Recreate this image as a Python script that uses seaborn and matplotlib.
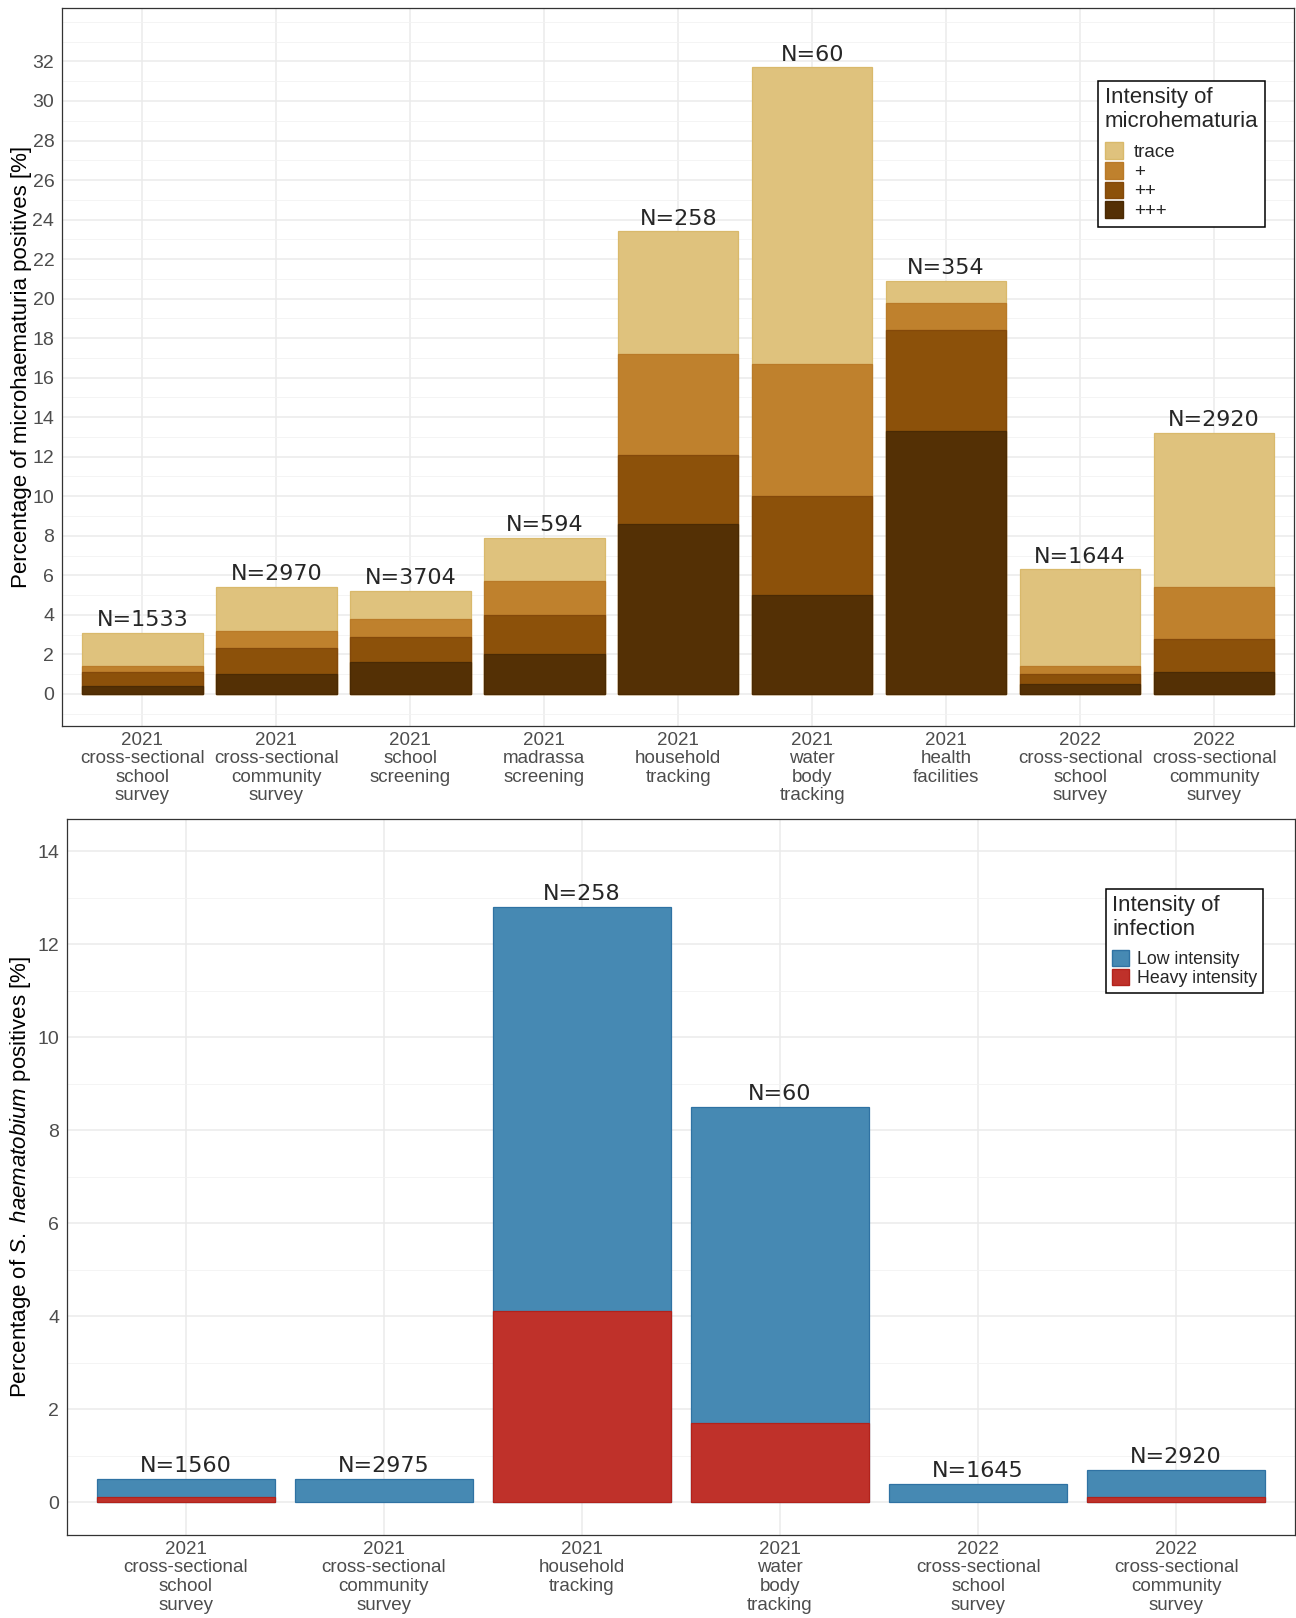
import numpy as np
import pandas as pd
import matplotlib
matplotlib.use("Agg")
import matplotlib.pyplot as plt
from matplotlib.patches import Patch
import seaborn as sns

# ---- data: microhaematuria (%) by intensity ----
mh_labels = ["2021\ncross-sectional\nschool\nsurvey", "2021\ncross-sectional\ncommunity\nsurvey",
             "2021\nschool\nscreening", "2021\nmadrassa\nscreening", "2021\nhousehold\ntracking",
             "2021\nwater\nbody\ntracking", "2021\nhealth\nfacilities",
             "2022\ncross-sectional\nschool\nsurvey", "2022\ncross-sectional\ncommunity\nsurvey"]
mh_n = [1533, 2970, 3704, 594, 258, 60, 354, 1644, 2920]
mh_plus3 = [0.4, 1.0, 1.6, 2.0, 8.6, 5.0, 13.3, 0.5, 1.1]
mh_plus2 = [0.7, 1.3, 1.3, 2.0, 3.5, 5.0, 5.1, 0.5, 1.7]
mh_plus1 = [0.3, 0.9, 0.9, 1.7, 5.1, 6.7, 1.4, 0.4, 2.6]
mh_trace = [1.7, 2.2, 1.4, 2.2, 6.2, 15.0, 1.1, 4.9, 7.8]
mh_yticks = list(range(0, 33, 2))

# ---- data: S. haematobium (%) by intensity ----
sh_labels = ["2021\ncross-sectional\nschool\nsurvey", "2021\ncross-sectional\ncommunity\nsurvey",
             "2021\nhousehold\ntracking", "2021\nwater\nbody\ntracking",
             "2022\ncross-sectional\nschool\nsurvey", "2022\ncross-sectional\ncommunity\nsurvey"]
sh_n = [1560, 2975, 258, 60, 1645, 2920]
sh_heavy = [0.1, 0.0, 4.1, 1.7, 0.0, 0.1]
sh_low = [0.4, 0.5, 8.7, 6.8, 0.4, 0.6]
sh_yticks = list(range(0, 15, 2))

sns.set_style("whitegrid")
plt.rcParams["font.family"] = ["Liberation Sans", "DejaVu Sans"]
plt.rcParams["mathtext.fontset"] = "custom"
plt.rcParams["mathtext.rm"] = "Liberation Sans"
plt.rcParams["mathtext.it"] = "Liberation Sans:italic"

fig = plt.figure(figsize=(12.96, 16.18), dpi=100)
ax1 = fig.add_axes([0.0478, 0.5516, 0.9510, 0.4434])
ax2 = fig.add_axes([0.0517, 0.0515, 0.9475, 0.4426])

tick_col = "#4D4D4D"


def style_axes(ax, ymin, ymax, ncat, yticks):
    ax.set_xlim(-0.6, ncat - 0.4)
    ax.set_ylim(ymin, ymax)
    ax.set_yticks(yticks)
    minor = [v for v in range(int(np.ceil(ymin)), int(ymax) + 1) if v not in yticks]
    ax.set_yticks(minor, minor=True)
    ax.set_axisbelow(True)
    ax.grid(which="major", color="#EBEBEB", linewidth=1.1)
    ax.grid(which="minor", axis="y", color="#F2F2F2", linewidth=0.6)
    ax.grid(which="minor", axis="x", visible=False)
    for s in ax.spines.values():
        s.set_color("#333333")
        s.set_linewidth(0.9)
    ax.tick_params(axis="both", which="major", length=4, width=0.8, color="#333333",
                   labelcolor=tick_col, pad=1.5)
    ax.tick_params(axis="x", which="major", pad=0.5)
    ax.tick_params(axis="y", which="major", labelsize=14)
    ax.tick_params(axis="x", which="major", labelsize=13.5)
    ax.tick_params(axis="both", which="minor", length=0)
    ax.set_xlabel("")
    for lab in ax.get_xticklabels():
        lab.set_linespacing(1.12)
        lab.set_color(tick_col)


def stacked_layers(ax, labels, layers, colors, edges):
    cum = np.zeros(len(labels))
    tops = []
    for vals in layers:
        cum = cum + np.array(vals)
        tops.append(cum.copy())
    # draw tallest (cumulative) first so lower layers sit on top
    for top, col, ec in reversed(list(zip(tops, colors, edges))):
        df = pd.DataFrame({"cat": labels, "val": top})
        sns.barplot(data=df, x="cat", y="val", color=col, width=0.9, saturation=1,
                    edgecolor=ec, linewidth=0.9, ax=ax)
    return tops


def make_legend(ax, handles, labels, title, anchor, fs, tpad):
    leg = ax.legend(handles, labels, title=title, bbox_to_anchor=anchor, loc="upper left",
                    fontsize=fs, title_fontsize=16, frameon=True, fancybox=False,
                    edgecolor="black", framealpha=1, handlelength=0.95, handleheight=1.0,
                    labelspacing=0.05, handletextpad=tpad, borderpad=0.35,
                    borderaxespad=0, alignment="left")
    leg.get_frame().set_linewidth(1.1)
    leg._legend_box.sep = 7
    return leg


# ---- top panel ----
mh_colors = ["#543005", "#8C510A", "#BF812D", "#DFC27D"]
mh_edges = ["#4A2A04", "#84490A", "#B97A28", "#D9B96B"]
tops = stacked_layers(ax1, mh_labels, [mh_plus3, mh_plus2, mh_plus1, mh_trace], mh_colors, mh_edges)
style_axes(ax1, -1.6, 34.7, len(mh_labels), mh_yticks)
ax1.set_ylabel("Percentage of microhaematuria positives [%]", fontsize=16, color="black", labelpad=0.5)
for i, (t, n) in enumerate(zip(tops[-1], mh_n)):
    ax1.annotate(f"N={n}", (i, t), xytext=(0, 2), textcoords="offset points",
                 ha="center", va="bottom", fontsize=16, family="DejaVu Sans")
h1 = [Patch(facecolor=c, edgecolor=e) for c, e in zip(mh_colors[::-1], mh_edges[::-1])]
make_legend(ax1, h1, ["trace", "+", "++", "+++"], "Intensity of\nmicrohematuria",
            (0.841, 0.899), 13.5, 0.6)

# ---- bottom panel ----
sh_colors = ["#BF312A", "#4689B3"]
sh_edges = ["#B2221B", "#2F72A3"]
tops2 = stacked_layers(ax2, sh_labels, [sh_heavy, sh_low], sh_colors, sh_edges)
# hide outline of zero-height heavy-intensity bars (drawn last)
heavy_patches = ax2.patches[len(sh_labels):2 * len(sh_labels)]
for p, v in zip(heavy_patches, sh_heavy):
    if v == 0:
        p.set_linewidth(0)
style_axes(ax2, -0.7, 14.7, len(sh_labels), sh_yticks)
ax2.set_ylabel("Percentage of $\\it{S.\\ haematobium}$ positives [%]", fontsize=16,
               color="black", labelpad=3)
for i, (t, n) in enumerate(zip(tops2[-1], sh_n)):
    ax2.annotate(f"N={n}", (i, t), xytext=(0, 2), textcoords="offset points",
                 ha="center", va="bottom", fontsize=16, family="DejaVu Sans")
h2 = [Patch(facecolor=c, edgecolor=e) for c, e in zip(sh_colors[::-1], sh_edges[::-1])]
make_legend(ax2, h2, ["Low intensity", "Heavy intensity"], "Intensity of\ninfection",
            (0.846, 0.902), 12.8, 0.45)

fig.savefig("out.png", dpi=100)
